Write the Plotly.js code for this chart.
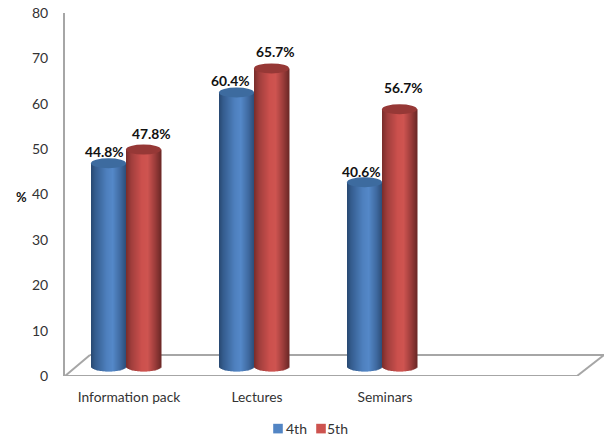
<!DOCTYPE html>
<html><head><meta charset="utf-8">
<script src="https://cdn.plot.ly/plotly-3.0.1.min.js"></script>
<style>html,body{margin:0;padding:0;background:#fff}#c{width:604px;height:438px}</style></head>
<body><div id="c"></div>
<script>
const categories = ["Information pack", "Lectures", "Seminars"];
const values4th = [44.8, 60.4, 40.6];
const values5th = [47.8, 65.7, 56.7];
const labels4th = ["44.8%", "60.4%", "40.6%"];
const labels5th = ["47.8%", "65.7%", "56.7%"];
const yTicks = [0, 10, 20, 30, 40, 50, 60, 70, 80];

// Plot geometry, in pixels
const W = 604, H = 438, L = 65, T = 13, B = 376;
const slotPx = 128, pyPerUnit = (B - T) / 80;
const xMin = -0.5, xMax = xMin + (W - L) / slotPx;
const xOfPx = p => xMin + (p - L) / slotPx;
const yOfPx = p => (B - p) / pyPerUnit;
const depth = 9.5 / pyPerUnit;      // 3D lift of the bars off the front axis
const barPx = 35, ryPx = 5, strips = 35;
const centreShift = -3 / slotPx;

function mix(a, b, t) { return a.map((v, i) => Math.round(v + (b[i] - v) * t)); }
function ramp(stops, t) {
  for (let i = 1; i < stops.length; i++) if (t <= stops[i][0]) {
    const [p0, c0] = stops[i - 1], [p1, c1] = stops[i];
    return 'rgb(' + mix(c0, c1, (t - p0) / (p1 - p0)).join(',') + ')';
  }
  return 'rgb(' + stops[stops.length - 1][1].join(',') + ')';
}
const blueRamp = [[0, [40, 72, 112]], [.12, [52, 92, 142]], [.45, [78, 128, 190]], [.62, [84, 136, 200]], [.85, [62, 104, 158]], [1, [44, 78, 120]]];
const redRamp = [[0, [120, 44, 42]], [.15, [160, 62, 60]], [.45, [204, 80, 77]], [.62, [206, 84, 80]], [.85, [150, 58, 56]], [1, [108, 40, 38]]];

const traces = [];
function addSeries(name, vals, side, colors, legendStrip, legendId) {
  const w = barPx / slotPx / strips;
  for (let s = 0; s < strips; s++) {
    const t = (s + .5) / strips, u = 2 * t - 1;
    const sag = ryPx * Math.sqrt(Math.max(0, 1 - u * u)) / pyPerUnit;
    traces.push({
      type: 'bar', name, legend: legendId,
      x: vals.map((_, i) => i),
      y: vals.map(v => v + sag),
      base: vals.map(() => depth - sag),
      width: vals.map(() => w * 1.5),
      offset: vals.map(() => centreShift + side * barPx / slotPx + s * w),
      marker: { color: ramp(colors, t), line: { width: 0 } },
      hoverinfo: 'skip',
      showlegend: s === legendStrip,
      legendgroup: name
    });
  }
}
addSeries('4th', values4th, -1, blueRamp, 19, 'legend');
addSeries('5th', values5th, 0, redRamp, 19, 'legend2');

const grey = '#a6a6a6';
const floorLine = (x0, y0, x1, y1) => ({ type: 'line', layer: 'below', xref: 'x', yref: 'y',
  x0: xOfPx(x0), y0: yOfPx(y0), x1: xOfPx(x1), y1: yOfPx(y1), line: { color: grey, width: 2 } });
const shapes = [
  floorLine(65, 376, 577, 376),
  floorLine(65, 376, 90, 355),
  floorLine(90, 355, 604, 355),
  floorLine(577, 376, 604, 355)
];
function cap(vals, side, fill) {
  vals.forEach((v, i) => {
    const x0 = i + centreShift + side * barPx / slotPx, x1 = x0 + barPx / slotPx;
    const yc = v + depth, r = ryPx / pyPerUnit;
    shapes.push({ type: 'circle', layer: 'above', xref: 'x', yref: 'y', x0, x1, y0: yc - r, y1: yc + r,
      fillcolor: fill, line: { width: 0 } });
  });
}
cap(values4th, -1, '#3d6b9f');
cap(values5th, 0, '#963836');

// label offsets from the bar's top centre, in pixels
const shift4th = [[-4, 12], [-6, 12], [-3, 11]];
const shift5th = [[8, 16], [4, 17], [4, 22]];
const anns = [];
function addLabels(vals, labels, side, shifts) {
  vals.forEach((v, i) => anns.push({
    x: i + centreShift + (side + .5) * barPx / slotPx, y: v + depth, xref: 'x', yref: 'y',
    text: '<b>' + labels[i] + '</b>', showarrow: false, xanchor: 'center', yanchor: 'middle',
    xshift: shifts[i][0], yshift: shifts[i][1], font: { family: 'Lato, sans-serif', size: 13.8, color: '#111' }
  }));
}
addLabels(values4th, labels4th, -1, shift4th);
addLabels(values5th, labels5th, 0, shift5th);
anns.push({ xref: 'paper', yref: 'paper', x: (21 - L) / (W - L), y: (B - 197) / (B - T), text: '<b>%</b>',
  showarrow: false, xanchor: 'center', yanchor: 'middle', font: { family: 'Lato, sans-serif', size: 13, color: '#111' } });

const legendBase = { orientation: 'h', yref: 'container', y: 1 - 429 / H, yanchor: 'middle', xanchor: 'left', itemclick: false,
  font: { family: 'Lato, sans-serif', size: 14, color: '#333' }, bgcolor: 'rgba(0,0,0,0)' };

Plotly.newPlot('c', traces, {
  width: W, height: H, paper_bgcolor: '#fff', plot_bgcolor: '#fff',
  margin: { l: L, r: 0, t: T, b: H - B, pad: 0, autoexpand: false },
  barmode: 'overlay', showlegend: true,
  legend: { ...legendBase, x: (246 - L) / (W - L) },
  legend2: { ...legendBase, x: (287 - L) / (W - L) },
  xaxis: { range: [xMin, xMax], automargin: false, tickmode: 'array', tickvals: [0, 1, 2], ticktext: categories, showgrid: false, zeroline: false,
    showline: false, ticks: 'outside', ticklen: 8, tickcolor: 'rgba(0,0,0,0)', tickfont: { family: 'Lato, sans-serif', size: 13.8, color: '#333' } },
  yaxis: { range: [0, 80], automargin: false, tickmode: 'array', tickvals: yTicks, showgrid: false, zeroline: false, showline: true, linecolor: grey, linewidth: 2,
    ticks: 'outside', ticklen: 12, tickcolor: 'rgba(0,0,0,0)', tickfont: { family: 'Lato, sans-serif', size: 14, color: '#333' } },
  shapes, annotations: anns
}, { displayModeBar: false, staticPlot: true }).then(gd => {
  // native legend keeps a wide swatch column: pull the swatches next to their text
  gd.querySelectorAll('.legendsymbols').forEach((g, i) => {
    g.setAttribute('transform', 'translate(' + [12, 14][i] + ',0)');
    g.querySelectorAll('path').forEach(p => {
      const old = p.getAttribute('transform') || '';
      p.setAttribute('transform', old + ' scale(0.8)');
    });
  });
});
</script></body></html>
